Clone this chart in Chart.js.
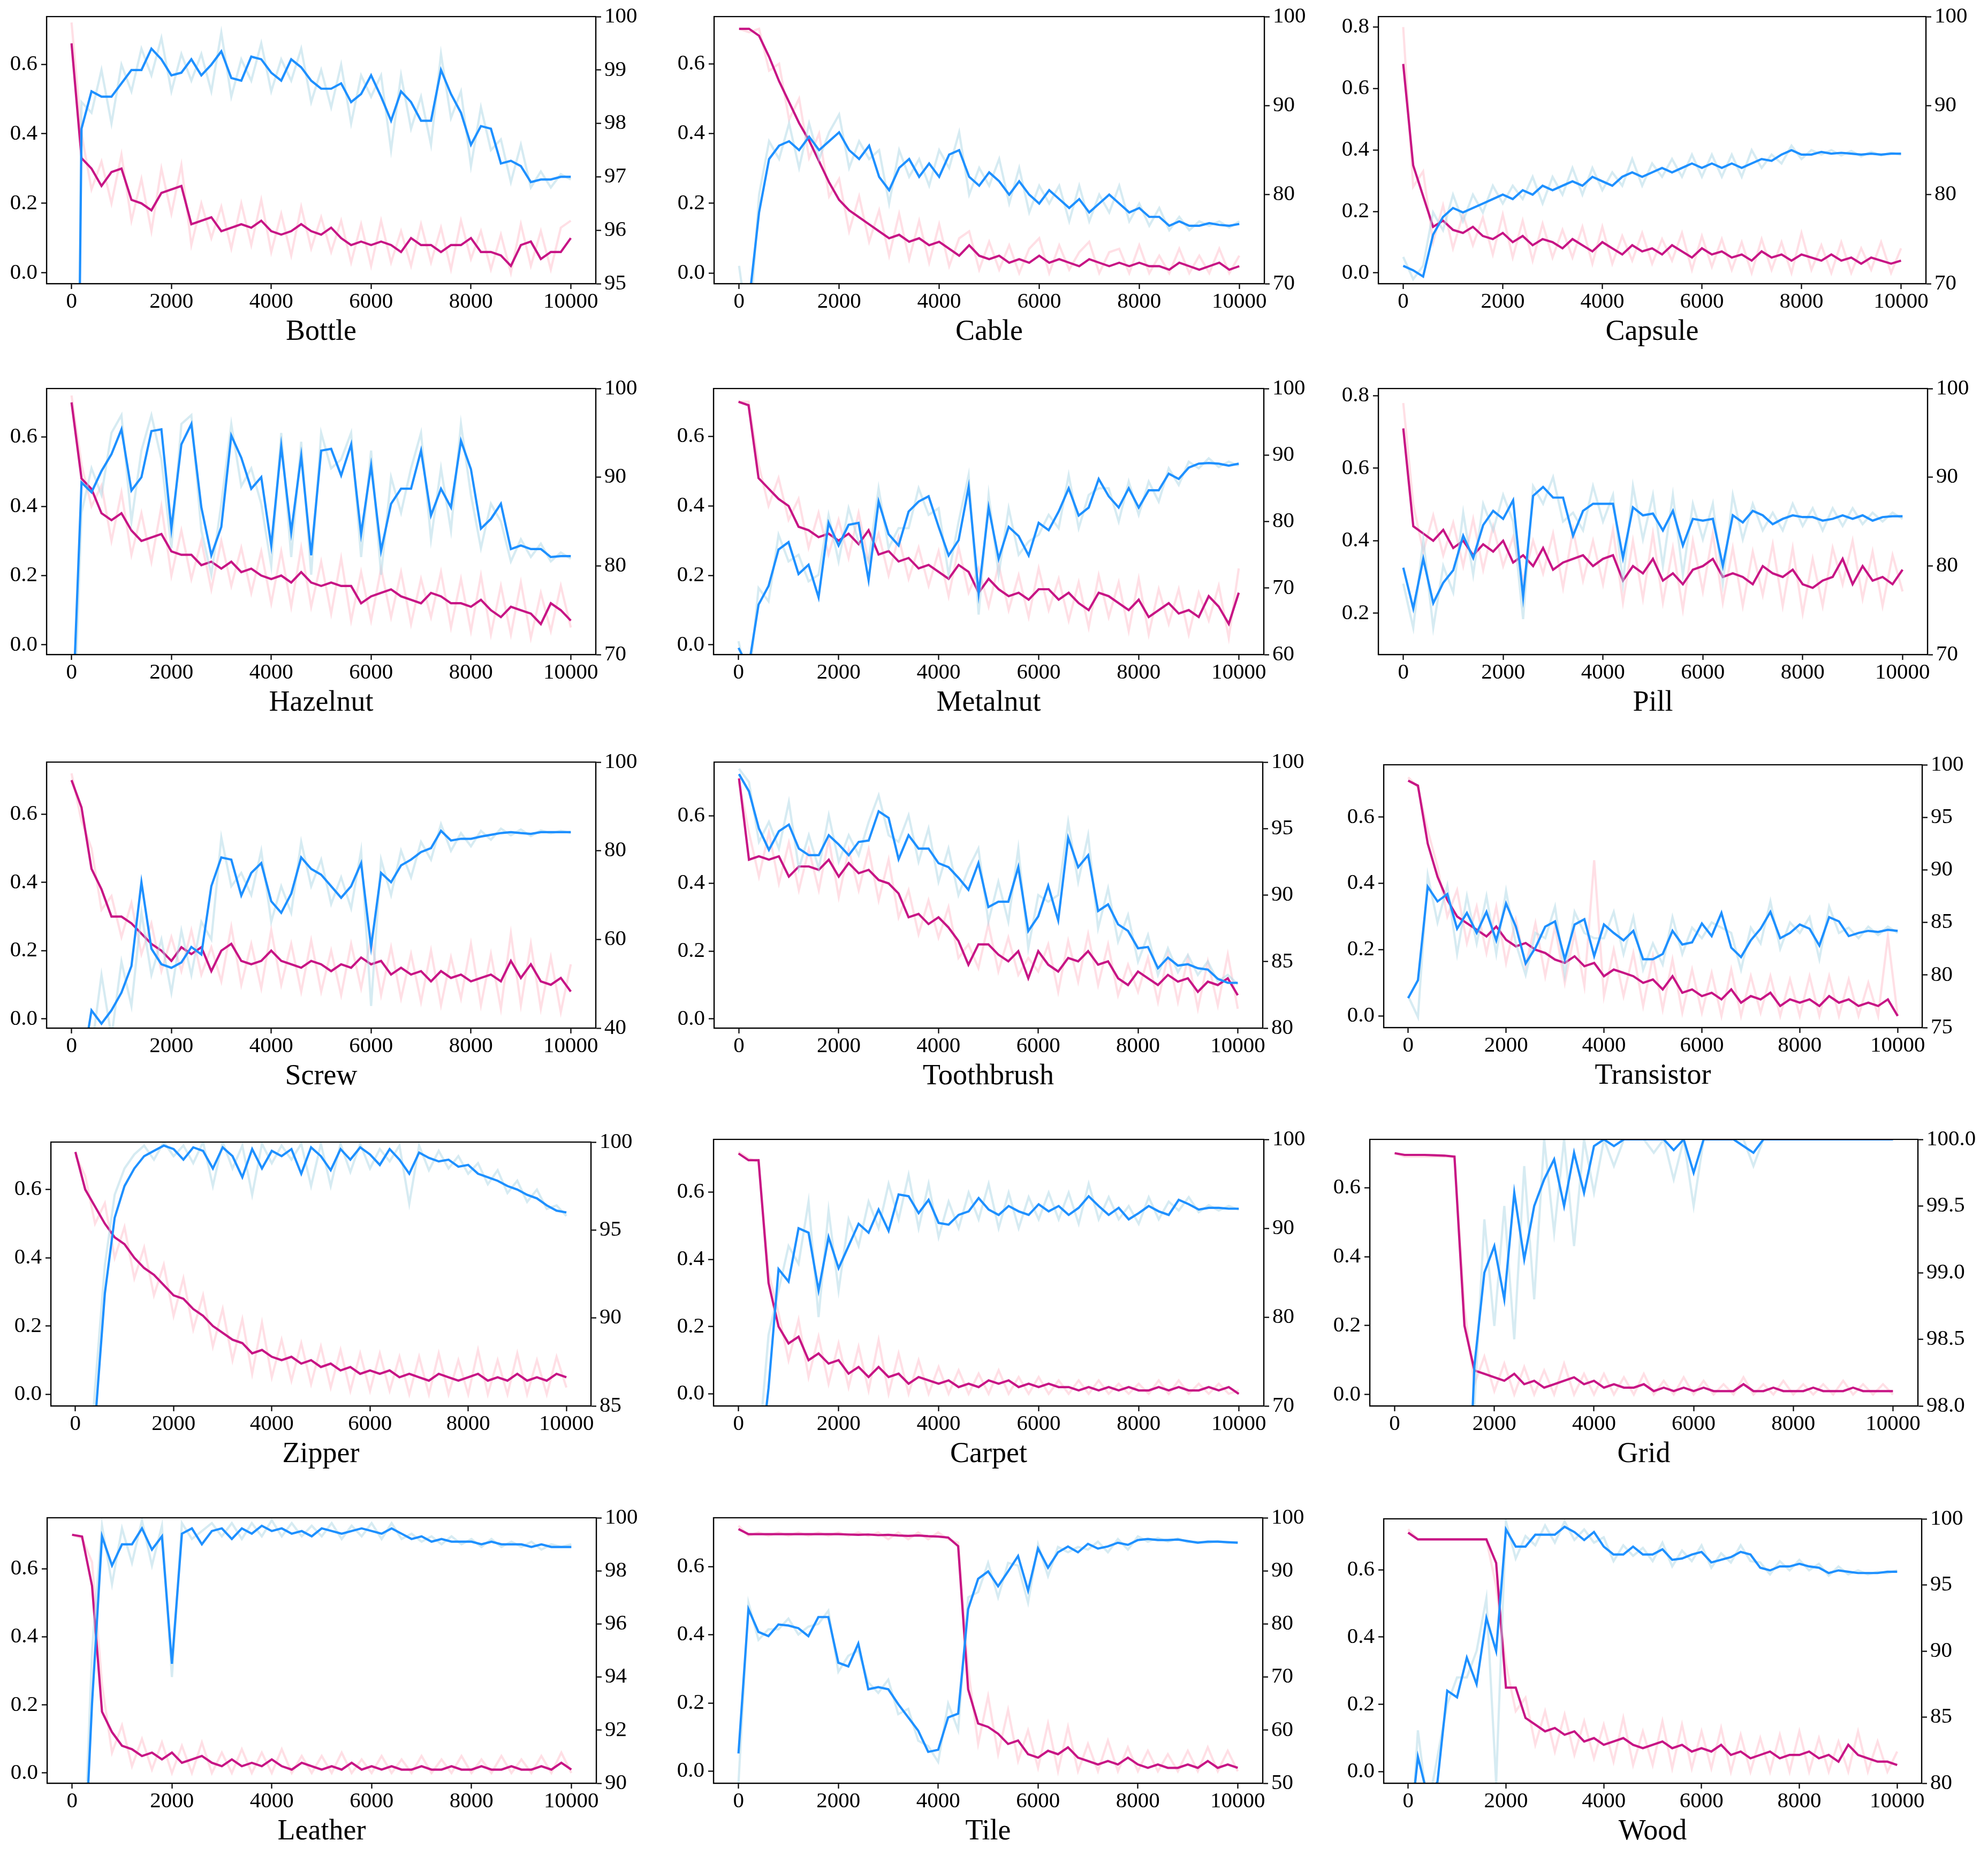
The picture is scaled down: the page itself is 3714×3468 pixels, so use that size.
<!DOCTYPE html>
<html>
<head>
<meta charset="utf-8">
<title>Training loss and accuracy per category</title>
<script src="https://cdn.jsdelivr.net/npm/chart.js"></script>
<style>
  html, body { margin: 0; padding: 0; background: #fff; }
  #page { position: relative; width: 3714px; height: 3468px; overflow: hidden; background: #fff; }
  #page canvas { position: absolute; }
  .title { position: absolute; width: 600px; text-align: center; color: #000;
           font-family: 'Liberation Serif', 'Times New Roman', serif; font-size: 54px; line-height: 54px; white-space: nowrap; }
</style>
</head>
<body>
<div id="page"></div>
<script>
// training step of every sample
const steps = [0,200,400,600,800,1000,1200,1400,1600,1800,2000,2200,2400,2600,2800,3000,3200,3400,3600,3800,4000,4200,4400,4600,4800,5000,5200,5400,5600,5800,6000,6200,6400,6600,6800,7000,7200,7400,7600,7800,8000,8200,8400,8600,8800,9000,9200,9400,9600,9800,10000];
const xTicks = [0, 2000, 4000, 6000, 8000, 10000];

// Bottle
const bottleLoss = [0.66,0.33,0.30,0.25,0.29,0.30,0.21,0.20,0.18,0.23,0.24,0.25,0.14,0.15,0.16,0.12,0.13,0.14,0.13,0.15,0.12,0.11,0.12,0.14,0.12,0.11,0.13,0.10,0.08,0.09,0.08,0.09,0.08,0.06,0.10,0.08,0.08,0.06,0.08,0.08,0.10,0.06,0.06,0.05,0.02,0.08,0.09,0.04,0.06,0.06,0.10];
const bottleLossRaw = [0.72,0.40,0.24,0.32,0.20,0.34,0.15,0.27,0.12,0.30,0.17,0.31,0.08,0.20,0.10,0.19,0.07,0.20,0.08,0.21,0.06,0.17,0.05,0.19,0.07,0.16,0.06,0.15,0.03,0.14,0.02,0.15,0.03,0.12,0.02,0.14,0.03,0.13,0.01,0.15,0.04,0.12,0.01,0.11,0.00,0.14,0.02,0.12,0.01,0.13,0.15];
const bottleAcc = [80,97.9,98.6,98.5,98.5,98.75,99.0,99.0,99.4,99.2,98.9,98.95,99.2,98.9,99.1,99.35,98.85,98.8,99.25,99.2,98.95,98.8,99.2,99.05,98.8,98.65,98.65,98.75,98.4,98.55,98.9,98.5,98.05,98.6,98.4,98.05,98.05,99.0,98.55,98.2,97.6,97.95,97.9,97.25,97.3,97.2,96.9,96.95,96.95,97.0,97.0];
const bottleAccRaw = [80,98.4,98.2,99.0,98.0,99.1,98.6,99.4,98.9,99.6,98.6,99.3,98.8,99.3,98.6,99.7,98.5,99.2,98.8,99.5,98.6,99.2,98.8,99.4,98.4,99.0,98.3,99.1,98.0,98.9,98.5,98.9,97.5,98.9,97.9,98.5,97.6,99.3,98.1,98.6,97.2,98.3,97.5,97.7,96.9,97.6,96.8,97.1,96.8,97.05,96.95];

// Cable
const cableLoss = [0.70,0.70,0.68,0.62,0.55,0.49,0.43,0.38,0.32,0.26,0.21,0.18,0.16,0.14,0.12,0.10,0.11,0.09,0.10,0.08,0.09,0.07,0.05,0.08,0.05,0.04,0.05,0.03,0.04,0.03,0.05,0.03,0.04,0.03,0.02,0.04,0.03,0.02,0.03,0.02,0.03,0.02,0.02,0.01,0.03,0.02,0.01,0.02,0.03,0.01,0.02];
const cableLossRaw = [0.70,0.69,0.70,0.58,0.60,0.44,0.50,0.33,0.40,0.22,0.27,0.12,0.22,0.09,0.18,0.05,0.17,0.04,0.15,0.03,0.14,0.02,0.10,0.12,0.01,0.09,0.01,0.08,0.00,0.07,0.10,0.00,0.08,0.01,0.06,0.09,0.00,0.06,0.07,0.00,0.08,0.00,0.05,0.00,0.07,0.00,0.05,0.00,0.07,0.00,0.05];
const cableAcc = [62,68,78,84,85.5,86,85,86.5,85,86,87,85,84,85.5,82,80.5,83,84,82,83.5,82,84.5,85,82,81,82.5,81.5,80,81.5,80,79,80.5,79.5,78.5,79.5,78,79,80,79,78,78.5,77.5,77.5,76.5,77,76.5,76.5,76.8,76.6,76.5,76.7];
const cableAccRaw = [72,64,80,86,84,88,83,88,84,87,89,83,86,84,85,79,85,82,84,81,85,83,87,80,83,81,84,79,83,78,81,79,81,77,81,77,80,78,81,77,79,76.5,78.5,76,77.5,76,77,76.5,77,76.3,77];

// Capsule
const capsuleLoss = [0.68,0.35,0.25,0.15,0.17,0.14,0.13,0.15,0.12,0.11,0.13,0.10,0.12,0.09,0.11,0.10,0.08,0.11,0.09,0.07,0.10,0.08,0.06,0.09,0.07,0.08,0.06,0.09,0.07,0.05,0.08,0.06,0.07,0.05,0.06,0.04,0.07,0.05,0.06,0.04,0.06,0.05,0.04,0.06,0.04,0.05,0.03,0.05,0.04,0.03,0.04];
const capsuleLossRaw = [0.80,0.28,0.33,0.10,0.22,0.08,0.19,0.09,0.18,0.06,0.19,0.05,0.17,0.04,0.16,0.05,0.14,0.05,0.15,0.03,0.15,0.03,0.12,0.04,0.13,0.03,0.11,0.04,0.13,0.01,0.12,0.02,0.11,0.01,0.10,0.00,0.11,0.01,0.10,0.00,0.13,0.01,0.09,0.00,0.10,0.00,0.08,0.01,0.10,0.00,0.08];
const capsuleAcc = [72,71.5,70.8,75.5,77.5,78.5,78,78.5,79,79.5,80,79.5,80.5,80,81,80.5,81,81.5,81,82,81.5,81,82,82.5,82,82.5,83,82.5,83,83.5,83,83.5,83,83.5,83,83.5,84,83.8,84.5,85,84.5,84.5,84.8,84.6,84.7,84.6,84.5,84.6,84.5,84.6,84.6];
const capsuleAccRaw = [73,70.5,72,78,76,80,77,80,78,81,79,81,79.5,82,79,82,80,83,80,83,80.5,82.5,81,84,81,83.5,82,84,82,84.5,82,84.5,82,84.5,82,85,83,84.5,83.5,85.5,84,85,84.5,85,84.4,84.9,84.3,84.8,84.4,84.7,84.5];

// Hazelnut
const hazelLoss = [0.70,0.48,0.45,0.38,0.36,0.38,0.33,0.30,0.31,0.32,0.27,0.26,0.26,0.23,0.24,0.22,0.24,0.21,0.22,0.20,0.19,0.20,0.18,0.21,0.18,0.17,0.18,0.17,0.17,0.12,0.14,0.15,0.16,0.14,0.13,0.12,0.15,0.14,0.12,0.12,0.11,0.13,0.10,0.08,0.11,0.10,0.09,0.06,0.12,0.10,0.07];
const hazelLossRaw = [0.72,0.52,0.40,0.46,0.30,0.44,0.26,0.38,0.24,0.40,0.20,0.33,0.19,0.30,0.16,0.30,0.17,0.28,0.15,0.27,0.12,0.27,0.11,0.28,0.11,0.24,0.09,0.25,0.07,0.21,0.07,0.22,0.08,0.21,0.06,0.19,0.08,0.21,0.05,0.19,0.04,0.20,0.03,0.17,0.03,0.18,0.02,0.15,0.04,0.17,0.05];
const hazelAcc = [60,89.4,88.3,90.7,92.6,95.4,88.5,90.0,95.2,95.4,84.2,93.7,96.0,86.6,81.2,84.4,94.7,92.2,88.7,90.0,82.3,93.5,83.8,92.4,81.2,93.0,93.2,90.2,93.7,83.6,91.3,81.7,87.0,88.7,88.7,93.0,85.7,88.7,86.6,94.1,90.9,84.2,85.3,87.0,81.9,82.3,81.9,81.9,81.0,81.1,81.1];
const hazelAccRaw = [55,86,91,88,95,97,85,93,97,92,82,96,97,84,79,87,96,89,91,87,80,95,81,94,79,95,91,92,95,81,93,79,90,86,91,95,83,91,84,96,88,82,87,85,80.5,83,81,82.5,80.5,81.5,80.8];

// Metalnut
const metalLoss = [0.70,0.69,0.48,0.45,0.42,0.40,0.34,0.33,0.31,0.32,0.30,0.32,0.29,0.33,0.26,0.27,0.24,0.25,0.22,0.23,0.21,0.19,0.23,0.21,0.15,0.19,0.16,0.14,0.15,0.13,0.16,0.16,0.13,0.15,0.12,0.10,0.15,0.14,0.12,0.10,0.13,0.08,0.10,0.12,0.09,0.10,0.08,0.14,0.11,0.06,0.15];
const metalLossRaw = [0.70,0.70,0.52,0.40,0.48,0.36,0.42,0.28,0.38,0.26,0.36,0.25,0.38,0.24,0.32,0.20,0.31,0.19,0.28,0.17,0.27,0.14,0.28,0.15,0.22,0.11,0.23,0.10,0.20,0.08,0.22,0.10,0.19,0.07,0.18,0.05,0.20,0.08,0.18,0.04,0.19,0.03,0.16,0.06,0.16,0.03,0.15,0.07,0.17,0.02,0.22];
const metalAcc = [61,58,67.5,70.3,75.8,76.9,72.1,73.5,68.6,79.8,76.4,79.5,79.8,71.2,83,78.1,76.4,81.5,83,83.8,79.2,74.9,77.2,85.2,69.2,82.1,74.4,79.2,77.8,74.9,79.8,78.7,81.5,85,80.9,82.1,86.4,83.8,82.1,85,82.1,84.7,84.7,87.2,86.4,88.1,88.7,88.8,88.7,88.4,88.7];
const metalAccRaw = [62,55,70,68,78,74,75,71,72,81,74,82,77,74,85,76,79,79,85,81,82,72,80,87,66,84,72,82,75,77,78,81,79,87,79,84,85,85,80,86,81,86,83,88,85.5,89,88,89.5,88.2,89,88.4];

// Pill
const pillLoss = [0.71,0.44,0.42,0.40,0.43,0.38,0.40,0.36,0.39,0.37,0.40,0.34,0.36,0.33,0.38,0.32,0.34,0.35,0.36,0.33,0.35,0.36,0.29,0.33,0.31,0.35,0.29,0.31,0.28,0.32,0.33,0.35,0.30,0.31,0.30,0.28,0.33,0.31,0.30,0.32,0.28,0.27,0.29,0.30,0.35,0.28,0.33,0.29,0.30,0.28,0.32];
const pillLossRaw = [0.78,0.50,0.37,0.47,0.36,0.45,0.33,0.46,0.32,0.44,0.33,0.41,0.29,0.40,0.31,0.42,0.27,0.43,0.29,0.40,0.28,0.43,0.23,0.40,0.24,0.42,0.23,0.38,0.21,0.40,0.26,0.42,0.23,0.38,0.22,0.37,0.25,0.39,0.22,0.38,0.20,0.35,0.22,0.38,0.28,0.40,0.24,0.37,0.22,0.36,0.26];
const pillAcc = [79.8,75.2,80.8,75.8,78.1,79.5,83.4,80.9,84.6,86.2,85.3,87.4,76.5,87.9,88.9,87.7,87.7,83.4,86.2,87.0,87.0,87.0,80.9,86.6,85.7,85.9,84.0,86.2,82.3,85.3,85.1,85.3,80.0,85.7,84.9,86.2,85.7,84.7,85.3,85.7,85.5,85.5,85.1,85.3,85.7,85.3,85.7,85.1,85.5,85.6,85.6];
const pillAccRaw = [78,73,83,73,80,77,86,79,87,84,88,85,74,89,87,90,85,86,84,89,85,88,78,89,83,88,80,88,79,87,83,87,78,88,83,87,84,86,84,87,84.5,86.5,84,86.5,84.5,86.5,84.7,86,85,86,85.3];

// Screw
const screwLoss = [0.70,0.62,0.44,0.38,0.30,0.30,0.28,0.25,0.22,0.20,0.17,0.21,0.19,0.21,0.14,0.20,0.22,0.17,0.16,0.17,0.20,0.17,0.16,0.15,0.17,0.16,0.14,0.16,0.15,0.18,0.16,0.17,0.13,0.15,0.13,0.14,0.11,0.14,0.12,0.13,0.11,0.12,0.13,0.11,0.17,0.12,0.16,0.11,0.10,0.12,0.08];
const screwLossRaw = [0.72,0.58,0.50,0.32,0.36,0.24,0.34,0.19,0.28,0.14,0.24,0.14,0.26,0.13,0.21,0.11,0.27,0.10,0.22,0.09,0.26,0.10,0.22,0.08,0.23,0.08,0.20,0.07,0.22,0.09,0.24,0.07,0.21,0.06,0.19,0.05,0.20,0.04,0.18,0.06,0.22,0.04,0.19,0.03,0.25,0.04,0.22,0.03,0.18,0.02,0.16];
const screwAcc = [30,30,44,41,44,48,54,72.9,57.9,54.4,53.6,54.8,58.3,56.6,72,78.5,78,69.9,75,77.2,68.6,66,70.3,78.5,75.9,74.6,72,69.4,72,77.2,58.3,75,72.9,76.7,78,79.7,80.6,84.5,82.3,82.7,82.7,83.2,83.6,84,84.2,84,83.8,84.2,84.2,84.2,84.2];
const screwAccRaw = [30,30,35,52,38,55,45,66,52,60,48,62,52,64,60,83,72,75,70,80,64,72,66,82,72,78,68,74,67,80,45,78,70,80,74,82,78,86,80,84,81,84.5,82.5,85,83.5,84.8,83.3,84.6,83.9,84.5,84];

// Toothbrush
const toothLoss = [0.71,0.47,0.48,0.47,0.48,0.42,0.45,0.45,0.44,0.47,0.42,0.46,0.43,0.44,0.41,0.40,0.37,0.30,0.31,0.28,0.30,0.27,0.23,0.16,0.22,0.22,0.19,0.17,0.20,0.12,0.20,0.16,0.14,0.18,0.17,0.20,0.16,0.17,0.12,0.10,0.14,0.12,0.10,0.13,0.11,0.12,0.08,0.11,0.10,0.12,0.07];
const toothLossRaw = [0.70,0.55,0.42,0.55,0.40,0.52,0.38,0.50,0.38,0.53,0.36,0.50,0.38,0.50,0.35,0.47,0.30,0.38,0.25,0.35,0.24,0.33,0.18,0.22,0.15,0.28,0.14,0.24,0.13,0.18,0.14,0.22,0.08,0.23,0.11,0.25,0.10,0.22,0.07,0.16,0.08,0.18,0.05,0.19,0.05,0.18,0.03,0.17,0.04,0.19,0.03];
const toothAcc = [99.1,97.8,95.0,93.4,94.8,95.3,93.5,93.0,93.0,94.5,93.8,93.0,94.0,94.1,96.3,95.8,92.7,94.5,93.5,93.5,92.4,92.1,91.3,90.4,92.4,89.1,89.5,89.5,92.1,87.3,88.4,90.7,88.1,94.3,92.1,93.0,88.8,89.3,87.8,87.3,86.0,86.1,84.5,85.3,84.7,84.8,84.5,84.4,83.7,83.4,83.4];
const toothAccRaw = [99.5,98.5,94,95.5,93.5,97,92,94.5,92,96,92.5,94.5,93,95.5,97.5,94.5,94,96,92.5,95,91,93.5,90,92,93.5,88,91,88,93.5,86,90,89.5,90,95.5,91,94.5,87.5,90.5,86.5,88.5,85,87,84,86,84.2,85.5,84,85,83.5,84,83.3];

// Transistor
const transLoss = [0.71,0.695,0.52,0.42,0.35,0.30,0.28,0.26,0.24,0.27,0.23,0.21,0.22,0.20,0.19,0.17,0.16,0.18,0.15,0.16,0.12,0.14,0.13,0.12,0.10,0.11,0.08,0.12,0.07,0.08,0.06,0.07,0.05,0.08,0.04,0.06,0.05,0.07,0.03,0.05,0.04,0.05,0.03,0.06,0.04,0.05,0.03,0.04,0.03,0.05,0.00];
const transLossRaw = [0.72,0.69,0.56,0.45,0.30,0.38,0.22,0.33,0.19,0.33,0.16,0.29,0.15,0.28,0.12,0.27,0.10,0.25,0.09,0.47,0.06,0.20,0.06,0.19,0.03,0.18,0.02,0.17,0.01,0.14,0.01,0.13,0.00,0.14,0.00,0.12,0.01,0.12,0.00,0.11,0.00,0.12,0.00,0.12,0.00,0.11,0.00,0.10,0.00,0.24,0.00];
const transAcc = [77.8,79.5,88.4,87.0,87.7,84.4,85.9,84.0,86.0,83.3,86.8,84.6,81.1,82.6,84.6,85.1,81.5,84.8,85.3,81.8,84.8,84.0,83.3,84.2,81.5,81.5,82.0,84.2,82.9,83.1,84.9,83.7,85.9,82.6,81.7,83.3,84.4,86.0,83.5,84.0,84.8,84.4,82.8,85.5,85.1,83.7,84.0,84.2,84.1,84.3,84.2];
const transAccRaw = [78,76,89.5,85,88.5,82,87.5,83,87.5,82,88,83,80,84,83.5,86.5,80,86,84,83.5,83.5,86,82,85.5,80.5,83,81,85.5,82,84.5,83.5,85,84.5,84,80.5,84.5,83,87,82.5,85,84,85.5,81.5,86.5,84,84.5,83.5,84.6,83.8,84.6,84];

// Zipper
const zipLoss = [0.71,0.60,0.55,0.50,0.46,0.44,0.40,0.37,0.35,0.32,0.29,0.28,0.25,0.23,0.20,0.18,0.16,0.15,0.12,0.13,0.11,0.10,0.11,0.09,0.10,0.08,0.09,0.07,0.08,0.06,0.07,0.06,0.07,0.05,0.06,0.05,0.04,0.06,0.05,0.04,0.05,0.06,0.04,0.05,0.04,0.06,0.04,0.05,0.04,0.06,0.05];
const zipLossRaw = [0.70,0.64,0.50,0.56,0.40,0.49,0.34,0.43,0.29,0.38,0.23,0.34,0.19,0.29,0.14,0.25,0.10,0.22,0.06,0.21,0.05,0.16,0.04,0.15,0.03,0.14,0.02,0.13,0.01,0.12,0.01,0.12,0.01,0.11,0.00,0.11,0.00,0.12,0.00,0.10,0.00,0.13,0.00,0.10,0.00,0.12,0.00,0.10,0.00,0.11,0.02];
const zipAcc = [78,80,84,91.4,95.7,97.5,98.5,99.2,99.5,99.8,99.6,99.0,99.7,99.5,98.5,99.7,99.2,98.0,99.6,98.5,99.5,99.2,99.6,98.2,99.7,99.2,98.4,99.6,99.0,99.7,99.3,98.7,99.6,99.0,98.2,99.4,99.1,98.9,99.0,98.6,98.7,98.2,98.0,97.8,97.5,97.3,97.0,96.8,96.4,96.1,96.0];
const zipAccRaw = [75,78,86,93,97,98.5,99.3,99.8,99,100,99.2,99.8,98.8,100,97.5,100,98.5,99.8,97,99.9,98.8,99.8,99,99.9,97.5,99.9,97.5,99.9,98.3,99.9,98.5,99.6,98.9,99.8,96.5,99.8,98.4,99.5,98.5,99.2,98.2,98.8,97.6,98.4,97.1,97.8,96.6,97.3,96.2,96.4,95.8];

// Carpet
const carpetLoss = [0.715,0.695,0.695,0.33,0.20,0.15,0.17,0.10,0.12,0.09,0.10,0.06,0.08,0.05,0.08,0.05,0.06,0.03,0.05,0.04,0.03,0.04,0.02,0.03,0.02,0.04,0.03,0.04,0.02,0.03,0.02,0.03,0.02,0.02,0.01,0.02,0.01,0.02,0.01,0.02,0.01,0.01,0.02,0.01,0.02,0.01,0.01,0.02,0.01,0.02,0.00];
const carpetLossRaw = [0.72,0.70,0.69,0.36,0.24,0.10,0.22,0.05,0.17,0.03,0.15,0.02,0.14,0.01,0.16,0.00,0.12,0.00,0.10,0.00,0.08,0.00,0.07,0.00,0.06,0.00,0.07,0.00,0.05,0.00,0.05,0.00,0.04,0.00,0.04,0.00,0.04,0.00,0.03,0.00,0.03,0.00,0.04,0.00,0.04,0.00,0.03,0.00,0.03,0.00,0.01];
const carpetAcc = [60,60,62,72,85.4,84,90,89.5,83,89,85.5,88,90.5,89.5,92.1,89.7,93.8,93.6,91.7,93.2,90.6,90.4,91.5,91.9,93.4,92.1,91.5,92.5,91.9,91.5,92.7,91.9,92.5,91.5,92.3,93.6,92.5,91.5,92.3,91,91.7,92.5,91.9,91.5,93.2,92.7,92.1,92.3,92.3,92.2,92.2];
const carpetAccRaw = [55,58,65,78,83,88,86,93,80,92,83,91,88,93,90,95,91,96,90,95,89,93,90,94,91,95,90,94,90,93.5,91,94,91,94,90.5,95,91,93.5,91,92.5,90.5,93.5,91,93,92,93.5,91.8,92.6,92,92.5,92.1];

// Grid
const gridLoss = [0.70,0.695,0.695,0.695,0.694,0.693,0.69,0.20,0.07,0.06,0.05,0.04,0.06,0.03,0.04,0.02,0.03,0.04,0.05,0.03,0.04,0.02,0.03,0.02,0.02,0.03,0.01,0.02,0.01,0.02,0.01,0.02,0.01,0.01,0.01,0.03,0.01,0.01,0.02,0.01,0.01,0.01,0.02,0.01,0.01,0.01,0.02,0.01,0.01,0.01,0.01];
const gridLossRaw = [0.70,0.69,0.69,0.69,0.69,0.69,0.69,0.25,0.03,0.11,0.01,0.09,0.00,0.08,0.00,0.07,0.00,0.09,0.00,0.06,0.00,0.06,0.00,0.05,0.00,0.06,0.00,0.04,0.00,0.05,0.00,0.04,0.00,0.03,0.00,0.05,0.00,0.03,0.00,0.04,0.00,0.03,0.00,0.03,0.00,0.04,0.00,0.03,0.00,0.03,0.00];
const gridAcc = [95,95,95,95,95,95,95,96.5,98.3,99.0,99.2,98.8,99.6,99.1,99.5,99.7,99.85,99.5,99.9,99.6,99.95,100,99.95,100,100,100,100,100,99.92,100,99.75,100,100,100,100,99.95,99.9,100,100,100,100,100,100,100,100,100,100,100,100,100,100];
const gridAccRaw = [95,95,95,95,95,95,95,97.5,98.0,99.4,98.6,99.5,98.5,99.8,98.8,100,99.3,100,99.2,100,99.6,100,99.8,100,100,100,99.9,100,99.7,100,99.5,100,100,100,100,100,99.8,100,100,100,100,100,100,100,100,100,100,100,100,100,100];

// Leather
const leatherLoss = [0.70,0.695,0.55,0.18,0.12,0.08,0.07,0.05,0.06,0.04,0.06,0.03,0.04,0.05,0.03,0.02,0.04,0.02,0.03,0.02,0.04,0.02,0.01,0.03,0.02,0.01,0.02,0.01,0.03,0.01,0.02,0.01,0.02,0.01,0.01,0.02,0.01,0.01,0.02,0.01,0.01,0.02,0.01,0.01,0.02,0.01,0.01,0.02,0.01,0.03,0.01];
const leatherLossRaw = [0.70,0.69,0.62,0.26,0.06,0.14,0.02,0.10,0.01,0.09,0.00,0.08,0.00,0.09,0.00,0.06,0.00,0.07,0.00,0.06,0.00,0.07,0.00,0.05,0.00,0.05,0.00,0.06,0.00,0.04,0.00,0.05,0.00,0.04,0.00,0.05,0.00,0.04,0.00,0.05,0.00,0.04,0.00,0.05,0.00,0.04,0.00,0.05,0.00,0.06,0.00];
const leatherAcc = [85,85,93,99.3,98.2,99.0,99.0,99.6,98.8,99.3,94.5,99.4,99.6,99.0,99.5,99.6,99.2,99.6,99.4,99.7,99.5,99.6,99.4,99.5,99.3,99.6,99.5,99.4,99.5,99.6,99.5,99.4,99.6,99.4,99.2,99.3,99.1,99.2,99.1,99.1,99.1,99.0,99.1,99.0,99.0,99.0,98.9,99.0,98.9,98.9,98.9];
const leatherAccRaw = [85,85,95,99.7,97.5,99.6,98.3,99.9,98.2,99.7,94.0,99.8,99.2,99.5,99.8,99.3,99.8,99.2,99.8,99.3,99.9,99.3,99.8,99.3,99.7,99.3,99.8,99.2,99.7,99.3,99.8,99.2,99.8,99.2,99.4,99.1,99.3,99.0,99.3,99.0,99.2,98.9,99.2,98.9,99.1,98.9,99.1,98.8,99.0,98.9,99.0];

// Tile
const tileLoss = [0.71,0.695,0.695,0.695,0.695,0.695,0.695,0.695,0.695,0.695,0.695,0.694,0.693,0.694,0.692,0.693,0.691,0.690,0.691,0.689,0.688,0.685,0.66,0.24,0.14,0.13,0.11,0.08,0.09,0.05,0.04,0.06,0.05,0.07,0.04,0.03,0.02,0.03,0.02,0.04,0.02,0.01,0.02,0.01,0.01,0.02,0.01,0.03,0.01,0.02,0.01];
const tileLossRaw = [0.72,0.69,0.70,0.69,0.70,0.69,0.70,0.69,0.70,0.69,0.70,0.69,0.70,0.69,0.70,0.68,0.70,0.68,0.70,0.68,0.70,0.68,0.67,0.30,0.08,0.22,0.05,0.18,0.03,0.12,0.01,0.14,0.00,0.13,0.00,0.08,0.00,0.09,0.00,0.07,0.00,0.06,0.00,0.05,0.00,0.06,0.00,0.07,0.00,0.06,0.00];
const tileAcc = [55.6,82.8,78.5,77.7,79.9,79.7,79.2,77.7,81.3,81.3,72.7,72,76.3,67.7,68.1,67.7,64.9,62.4,59.9,55.9,56.3,62.4,63.1,82.8,88.5,89.9,87.1,89.9,92.8,86.3,94.2,90.6,93.5,94.6,93.5,95.1,94.2,94.6,95.3,94.9,95.8,96,95.8,95.8,95.9,95.6,95.3,95.5,95.5,95.4,95.3];
const tileAccRaw = [50,84,77,79,79,81,78,79.5,80,82.5,71,74,75,69,67,69.5,63,64,58,57,54,65,60,85,86,91.5,85,91.5,91,84,95,89,94.5,93.5,94.5,94,95.5,93.5,96,94,96.5,95.5,96.2,95.5,96.1,95.4,95.5,95.3,95.6,95.3,95.4];

// Wood
const woodLoss = [0.71,0.69,0.69,0.69,0.69,0.69,0.69,0.69,0.69,0.62,0.25,0.25,0.16,0.14,0.12,0.13,0.11,0.12,0.09,0.10,0.08,0.09,0.10,0.08,0.07,0.08,0.09,0.07,0.08,0.06,0.07,0.06,0.08,0.05,0.06,0.04,0.05,0.06,0.04,0.05,0.05,0.06,0.04,0.05,0.03,0.08,0.05,0.04,0.03,0.03,0.02];
const woodLossRaw = [0.72,0.69,0.69,0.69,0.69,0.69,0.69,0.69,0.69,0.55,0.32,0.18,0.22,0.08,0.18,0.06,0.17,0.05,0.15,0.04,0.14,0.03,0.16,0.02,0.12,0.02,0.15,0.01,0.14,0.01,0.12,0.01,0.13,0.00,0.11,0.00,0.10,0.00,0.11,0.00,0.12,0.00,0.10,0.00,0.09,0.00,0.12,0.00,0.09,0.00,0.06];
const woodAcc = [75,82,79,80.1,87,86.5,89.5,87.5,92.5,90,99.2,97.9,97.9,98.8,98.8,98.8,99.4,99,98.4,99,97.9,97.3,97.3,97.9,97.3,97.3,97.7,96.9,97,97.3,97.5,96.7,96.9,97.1,97.5,97.3,96.3,96.1,96.4,96.4,96.6,96.4,96.3,95.9,96.1,96,95.9,95.9,95.9,96,96];
const woodAccRaw = [72,84,78,82,86,88,88,90,94,80,99.8,97,98.7,98,99.5,98.2,99.8,98.4,99.2,98.2,98.6,96.8,98,97.2,97.8,96.8,98.2,96.4,97.6,96.8,98,96.3,97.4,96.7,98,96.8,96.7,95.8,96.8,96.1,96.9,96.1,96.6,95.7,96.4,95.8,96.1,95.8,96,95.9,96.1];

// layout of the 15 subplots: plot-area rectangle [left, top, right, bottom] in page pixels
const lossTicks = [0, 0.2, 0.4, 0.6];
const panels = [
  { name: 'Bottle',     rect: [87, 31, 1113, 530],      loss: bottleLoss,  lossRaw: bottleLossRaw,  acc: bottleAcc,  accRaw: bottleAccRaw,  yl: [-0.031, 0.737], lt: lossTicks, yr: [95, 100], rt: [95, 96, 97, 98, 99, 100], rd: 0 },
  { name: 'Cable',      rect: [1334, 31, 2362, 530],    loss: cableLoss,   lossRaw: cableLossRaw,   acc: cableAcc,   accRaw: cableAccRaw,   yl: [-0.03, 0.735],  lt: lossTicks, yr: [70, 100], rt: [70, 80, 90, 100], rd: 0 },
  { name: 'Capsule',    rect: [2575, 31, 3598, 530],    loss: capsuleLoss, lossRaw: capsuleLossRaw, acc: capsuleAcc, accRaw: capsuleAccRaw, yl: [-0.035, 0.834], lt: [0, 0.2, 0.4, 0.6, 0.8], yr: [70, 100], rt: [70, 80, 90, 100], rd: 0 },
  { name: 'Hazelnut',   rect: [87, 726, 1113, 1223],    loss: hazelLoss,   lossRaw: hazelLossRaw,   acc: hazelAcc,   accRaw: hazelAccRaw,   yl: [-0.028, 0.74],  lt: lossTicks, yr: [70, 100], rt: [70, 80, 90, 100], rd: 0 },
  { name: 'Metalnut',   rect: [1333, 726, 2361, 1223],  loss: metalLoss,   lossRaw: metalLossRaw,   acc: metalAcc,   accRaw: metalAccRaw,   yl: [-0.028, 0.738], lt: lossTicks, yr: [60, 100], rt: [60, 70, 80, 90, 100], rd: 0 },
  { name: 'Pill',       rect: [2575, 726, 3601, 1223],  loss: pillLoss,    lossRaw: pillLossRaw,    acc: pillAcc,    accRaw: pillAccRaw,    yl: [0.086, 0.82],   lt: [0.2, 0.4, 0.6, 0.8], yr: [70, 100], rt: [70, 80, 90, 100], rd: 0 },
  { name: 'Screw',      rect: [87, 1424, 1113, 1921],   loss: screwLoss,   lossRaw: screwLossRaw,   acc: screwAcc,   accRaw: screwAccRaw,   yl: [-0.027, 0.753], lt: lossTicks, yr: [40, 100], rt: [40, 60, 80, 100], rd: 0 },
  { name: 'Toothbrush', rect: [1334, 1424, 2359, 1921], loss: toothLoss,   lossRaw: toothLossRaw,   acc: toothAcc,   accRaw: toothAccRaw,   yl: [-0.027, 0.758], lt: lossTicks, yr: [80, 100], rt: [80, 85, 90, 95, 100], rd: 0 },
  { name: 'Transistor', rect: [2585, 1429, 3591, 1920], loss: transLoss,   lossRaw: transLossRaw,   acc: transAcc,   accRaw: transAccRaw,   yl: [-0.035, 0.758], lt: lossTicks, yr: [75, 100], rt: [75, 80, 85, 90, 95, 100], rd: 0 },
  { name: 'Zipper',     rect: [95, 2134, 1104, 2627],   loss: zipLoss,     lossRaw: zipLossRaw,     acc: zipAcc,     accRaw: zipAccRaw,     yl: [-0.034, 0.739], lt: lossTicks, yr: [85, 100], rt: [85, 90, 95, 100], rd: 0 },
  { name: 'Carpet',     rect: [1333, 2129, 2361, 2627], loss: carpetLoss,  lossRaw: carpetLossRaw,  acc: carpetAcc,  accRaw: carpetAccRaw,  yl: [-0.036, 0.757], lt: lossTicks, yr: [70, 100], rt: [70, 80, 90, 100], rd: 0 },
  { name: 'Grid',       rect: [2559, 2129, 3583, 2627], loss: gridLoss,    lossRaw: gridLossRaw,    acc: gridAcc,    accRaw: gridAccRaw,    yl: [-0.033, 0.74],  lt: lossTicks, yr: [98, 100], rt: [98, 98.5, 99, 99.5, 100], rd: 1 },
  { name: 'Leather',    rect: [88, 2836, 1114, 3332],   loss: leatherLoss, lossRaw: leatherLossRaw, acc: leatherAcc, accRaw: leatherAccRaw, yl: [-0.03, 0.75],   lt: lossTicks, yr: [90, 100], rt: [90, 92, 94, 96, 98, 100], rd: 0 },
  { name: 'Tile',       rect: [1333, 2836, 2359, 3332], loss: tileLoss,    lossRaw: tileLossRaw,    acc: tileAcc,    accRaw: tileAccRaw,    yl: [-0.035, 0.743], lt: lossTicks, yr: [50, 100], rt: [50, 60, 70, 80, 90, 100], rd: 0 },
  { name: 'Wood',       rect: [2585, 2838, 3590, 3332], loss: woodLoss,    lossRaw: woodLossRaw,    acc: woodAcc,    accRaw: woodAccRaw,    yl: [-0.034, 0.751], lt: lossTicks, yr: [80, 100], rt: [80, 85, 90, 95, 100], rd: 0 },
];

const AXW = 160, PADT = 40, XH = 70;
const LW = 4.2, SPINE = 2.2;
const SERIF = 'Liberation Serif, Times New Roman, serif';
const tickFont = { family: SERIF, size: 41, style: 'normal', weight: 'normal' };

Chart.defaults.font.family = SERIF;
Chart.defaults.font.size = 41;
Chart.defaults.color = '#000';

// full black frame round the plot area, like matplotlib spines
const frame = {
  id: 'frame',
  afterDatasetsDraw(chart) {
    const a = chart.chartArea, c = chart.ctx;
    c.save();
    c.strokeStyle = '#000';
    c.lineWidth = SPINE;
    c.strokeRect(a.left, a.top, a.right - a.left, a.bottom - a.top);
    c.restore();
  }
};

function series(arr, color, axis) {
  return {
    data: steps.map((x, i) => ({ x: x, y: arr[i] })),
    borderColor: color, borderWidth: LW, pointRadius: 0, tension: 0,
    fill: false, yAxisID: axis, clip: 0
  };
}

function tickGrid() {
  return { display: true, drawOnChartArea: false, drawTicks: true, tickLength: 10, tickWidth: SPINE, tickColor: '#000' };
}

const page = document.getElementById('page');

function drawAll() {
  panels.forEach(p => {
    const [l, t, r, b] = p.rect;
    const w = r - l + 2 * AXW, h = b - t + PADT + XH;
    const cv = document.createElement('canvas');
    cv.width = w; cv.height = h;
    cv.style.left = (l - AXW) + 'px';
    cv.style.top = (t - PADT) + 'px';
    cv.style.width = w + 'px';
    cv.style.height = h + 'px';
    page.appendChild(cv);

    const title = document.createElement('div');
    title.className = 'title';
    title.textContent = p.name;
    title.style.left = ((l + r) / 2 - 300) + 'px';
    title.style.top = (b + 60) + 'px';
    page.appendChild(title);

    new Chart(cv.getContext('2d'), {
      type: 'line',
      data: {
        datasets: [
          series(p.acc, 'rgb(30,144,255)', 'y1'),
          series(p.accRaw, 'rgba(173,216,230,0.5)', 'y1'),
          series(p.loss, 'rgb(199,21,133)', 'y'),
          series(p.lossRaw, 'rgba(255,192,203,0.5)', 'y'),
        ]
      },
      options: {
        responsive: false,
        animation: false,
        devicePixelRatio: 1,
        layout: { padding: { top: PADT, left: 0, right: 0, bottom: 0 } },
        plugins: { legend: { display: false }, tooltip: { enabled: false } },
        scales: {
          x: {
            type: 'linear', min: -500, max: 10500,
            grid: tickGrid(),
            border: { display: true, color: '#000', width: SPINE },
            ticks: { font: tickFont, color: '#000', padding: 0, maxRotation: 0, minRotation: 0, autoSkip: false, callback: v => String(v) },
            afterBuildTicks: s => { s.ticks = xTicks.map(v => ({ value: v })); },
            afterFit: s => { s.height = XH; }
          },
          y: {
            position: 'left', min: p.yl[0], max: p.yl[1],
            grid: tickGrid(),
            border: { display: true, color: '#000', width: SPINE },
            ticks: { font: tickFont, color: '#000', padding: 7, autoSkip: false, callback: v => Number(v).toFixed(1) },
            afterBuildTicks: s => { s.ticks = p.lt.map(v => ({ value: v })); },
            afterFit: s => { s.width = AXW; }
          },
          y1: {
            position: 'right', min: p.yr[0], max: p.yr[1],
            grid: tickGrid(),
            border: { display: true, color: '#000', width: SPINE },
            ticks: { font: tickFont, color: '#000', padding: 6, autoSkip: false, callback: v => Number(v).toFixed(p.rd) },
            afterBuildTicks: s => { s.ticks = p.rt.map(v => ({ value: v })); },
            afterFit: s => { s.width = AXW; }
          }
        }
      },
      plugins: [frame]
    });
  });
}

// make sure the serif face is ready before the canvases draw text
if (document.fonts && document.fonts.load) {
  document.fonts.load('41px "Liberation Serif"').then(drawAll, drawAll);
} else {
  drawAll();
}
</script>
</body>
</html>
